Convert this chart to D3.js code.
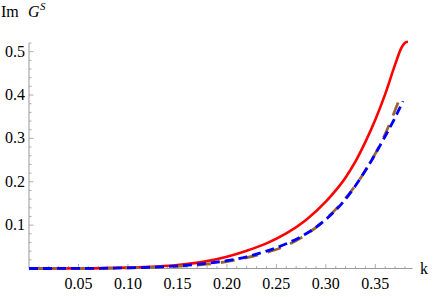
<!DOCTYPE html>
<html><head><meta charset="utf-8">
<script src="https://cdn.jsdelivr.net/npm/d3@7"></script>
<style>body{margin:0;background:#fff}</style>
</head><body>
<svg id="c" width="436" height="297"></svg>
<script>
const redK  = [0,0.05,0.10,0.15,0.18,0.20,0.22,0.24,0.26,0.28,0.30,0.31,0.32,0.33,0.34,0.35,0.36,0.37,0.376,0.379,0.381,0.383];
const redV  = [0,0.0003,0.002,0.008,0.017,0.027,0.041,0.058,0.081,0.112,0.154,0.180,0.210,0.247,0.292,0.343,0.402,0.470,0.507,0.518,0.522,0.523];
const blueK = [0,0.05,0.10,0.15,0.18,0.20,0.22,0.24,0.26,0.28,0.30,0.32,0.34,0.36,0.37,0.378];
const blueV = [0,0.0002,0.0015,0.006,0.012,0.018,0.027,0.040,0.057,0.080,0.113,0.160,0.226,0.305,0.348,0.386];
const brownK = [0,0.05,0.10,0.15,0.18,0.20,0.22,0.24,0.26,0.28,0.30,0.32,0.34,0.36,0.3755];
const brownV = [0,0.0002,0.0013,0.005,0.010,0.016,0.025,0.037,0.053,0.078,0.114,0.162,0.226,0.310,0.397];
const xTicks = [0.05,0.10,0.15,0.20,0.25,0.30,0.35];
const yTicks = [0.1,0.2,0.3,0.4,0.5];

const svg = d3.select("#c");
const x = d3.scaleLinear().domain([0,0.3876]).range([29,412.5]);
const y = d3.scaleLinear().domain([0,0.52]).range([268.5,43]);
const axisCol = "#999";

svg.append("line").attr("x1",x(0)).attr("x2",x(0.3876)).attr("y1",y(0)).attr("y2",y(0)).attr("stroke",axisCol).attr("stroke-width",1);
svg.append("line").attr("x1",x(0)).attr("x2",x(0)).attr("y1",y(0)).attr("y2",y(0.52)).attr("stroke",axisCol).attr("stroke-width",1);

const xMinor = d3.range(1,39).map(i=>i/100);
xMinor.forEach(v=>{
  const major = Math.abs(v*20 - Math.round(v*20))<1e-6;
  svg.append("line").attr("x1",x(v)).attr("x2",x(v)).attr("y1",y(0)).attr("y2",y(0)-(major?4.5:2.5)).attr("stroke",axisCol).attr("stroke-width",0.8);
});
xTicks.forEach(d=>{
  svg.append("text")
    .attr("x",x(d)).attr("y",y(0)+20).attr("text-anchor","middle").attr("font-size",16)
    .text(d.toFixed(2));
});
const yMinor = d3.range(1,27).map(i=>i/50);
yMinor.forEach(v=>{
  const major = Math.abs(v*10 - Math.round(v*10))<1e-6;
  svg.append("line").attr("x1",x(0)).attr("x2",x(0)+(major?4.5:2.5)).attr("y1",y(v)).attr("y2",y(v)).attr("stroke",axisCol).attr("stroke-width",0.8);
});
yTicks.forEach(d=>{
  svg.append("text")
    .attr("x",x(0)-4).attr("y",y(d)+5).attr("text-anchor","end").attr("font-size",16)
    .text(d.toFixed(1));
});

svg.append("text").attr("x",1).attr("y",17).attr("font-size",16).text("Im");
svg.append("text").attr("font-style","italic").attr("x",28).attr("y",17).attr("font-size",16).text("G");
svg.append("text").attr("font-style","italic").attr("x",40).attr("y",10).attr("font-size",11).text("S");
svg.append("text").attr("x",420).attr("y",274).attr("font-size",16).text("k");

const line = d3.line().x(d=>x(d[0])).y(d=>y(d[1])).curve(d3.curveMonotoneX);
svg.append("defs").append("clipPath").attr("id","cp").append("rect").attr("x",x(0)).attr("y",0).attr("width",436).attr("height",y(0)+1.5);
svg.append("path").datum(d3.zip(redK,redV)).attr("d",line).attr("fill","none").attr("stroke","#ff0000").attr("stroke-width",2.6).attr("clip-path","url(#cp)");
svg.append("path").datum(d3.zip(brownK,brownV)).attr("d",line).attr("fill","none").attr("stroke","#996633").attr("stroke-width",2.8).attr("stroke-dasharray","14,10").attr("clip-path","url(#cp)");
svg.append("path").datum(d3.zip(blueK,blueV)).attr("d",line).attr("fill","none").attr("stroke","#0000ff").attr("stroke-width",2.8).attr("stroke-dasharray","9,5").attr("clip-path","url(#cp)");
</script>
</body></html>
